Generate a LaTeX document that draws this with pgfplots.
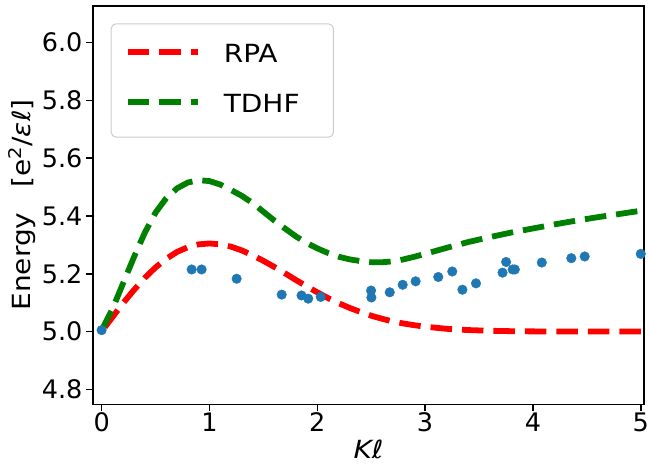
\documentclass[border=0pt]{standalone}
\usepackage{fontspec}
\setmainfont{DejaVu Sans}
\newfontfamily\widefont{DejaVu Sans}[FakeStretch=1.12]
\usepackage{pgfplots}
\pgfplotsset{compat=1.18}
\definecolor{c0}{HTML}{1F77B4}
\definecolor{mgreen}{RGB}{0,128,0}
\begin{document}
\begin{tikzpicture}
\begin{axis}[name=ax, scale only axis, width=551pt, height=398.7pt,
  xmin=-0.08, xmax=5.03, ymin=4.748, ymax=6.128,
  xtick={0,1,2,3,4,5}, ytick={4.8,5.0,5.2,5.4,5.6,5.8,6.0},
  tick pos=left, tick align=outside, major tick length=7pt,
  every tick/.style={black, line width=1.5pt},
  axis line style={line width=1.8pt},
  /pgf/number format/assume math mode=true,
  yticklabel style={/pgf/number format/.cd, fixed, fixed zerofill, precision=1},
  xticklabel style={yshift=2pt},
  ticklabel style={font=\fontsize{25.5}{30}\selectfont},
  every axis x label/.style={at={(axis description cs:0.5,-0.1119)}, anchor=center, font=\widefont\fontsize{25}{30}\selectfont},
  every axis y label/.style={at={(axis description cs:-0.1287,0.5)}, rotate=90, anchor=center, font=\widefont\fontsize{25}{30}\selectfont},
  xlabel={\textit{Kℓ}},
  ylabel={Energy\quad[e\textsuperscript{2}/\textit{εℓ}]},
  legend image code/.code={\draw[#1] (0pt,10.4pt) -- (70.7pt,10.4pt); \path (93.2pt,0pt);},
  legend cell align=left,
  legend style={at={(axis description cs:0,1)}, anchor=north west, xshift=17.7pt, yshift=-17.6pt,
    draw=black!20, line width=1pt, rounded corners=5pt, fill=white,
    inner xsep=13.6pt, inner ysep=20pt, row sep=26.8pt,
    font=\widefont\fontsize{25}{30}\selectfont,
    nodes={inner sep=0pt, text height=18.3pt, text depth=5pt, text width=96pt, align=left, anchor=base west}},
]
\addplot[only marks, mark=*, mark size=4.8pt, color=c0, mark options={draw=c0, fill=c0}, forget plot] coordinates {
(0.0,5.005) (0.835,5.215) (0.927,5.215) (1.252,5.183) (1.67,5.128) (1.854,5.125) (1.916,5.114)
(2.032,5.12) (2.499,5.142) (2.502,5.118) (2.672,5.136) (2.792,5.162) (2.912,5.174) (3.122,5.189)
(3.252,5.208) (3.346,5.145) (3.472,5.167) (3.718,5.204) (3.751,5.241) (3.812,5.215) (3.832,5.215)
(4.082,5.239) (4.356,5.254) (4.48,5.26) (5.0,5.269)
};
\addplot[red, line width=5.8pt, dash pattern=on 21.5pt off 10pt] coordinates {
(0.03,5.015) (0.1,5.050) (0.2,5.099) (0.3,5.144) (0.4,5.186) (0.5,5.222) (0.6,5.252) (0.7,5.276)
(0.8,5.292) (0.9,5.302) (1.0,5.305) (1.1,5.302) (1.2,5.294) (1.3,5.281) (1.4,5.264) (1.5,5.245)
(1.6,5.224) (1.7,5.202) (1.8,5.179) (1.9,5.157) (2.0,5.136) (2.1,5.116) (2.2,5.098) (2.3,5.082)
(2.4,5.068) (2.5,5.055) (2.6,5.0445) (2.7,5.035) (2.8,5.028) (2.9,5.022) (3.0,5.017) (3.2,5.0096)
(3.4,5.0053) (3.6,5.0028) (3.8,5.0014) (4.0,5.0007) (4.3,5.0002) (4.6,5.0) (5.03,5.0)
};
\addlegendentry{RPA}
\addplot[mgreen, line width=5.8pt, dash pattern=on 21.5pt off 10pt] coordinates {
(0.0,5.005) (0.1,5.078) (0.2,5.168) (0.3,5.258) (0.4,5.342) (0.5,5.412) (0.6,5.462) (0.7,5.496)
(0.8,5.516) (0.9,5.524) (1.0,5.521) (1.1,5.509) (1.2,5.49) (1.3,5.47) (1.4,5.445) (1.5,5.415)
(1.6,5.385) (1.7,5.357) (1.8,5.33) (1.9,5.307) (2.0,5.288) (2.1,5.272) (2.2,5.259) (2.3,5.25)
(2.4,5.244) (2.5,5.24) (2.6,5.24) (2.7,5.243) (2.8,5.25) (2.9,5.259) (3.0,5.269) (3.2,5.29)
(3.4,5.31) (3.6,5.327) (3.8,5.343) (4.0,5.357) (4.2,5.371) (4.4,5.384) (4.6,5.396) (4.8,5.407)
(5.03,5.42)
};
\addlegendentry{TDHF}
\end{axis}
\pgfresetboundingbox
\path ([shift={(-93pt,-67.6pt)}]ax.south west) rectangle ([shift={(5pt,5.7pt)}]ax.north east);
\end{tikzpicture}
\end{document}
